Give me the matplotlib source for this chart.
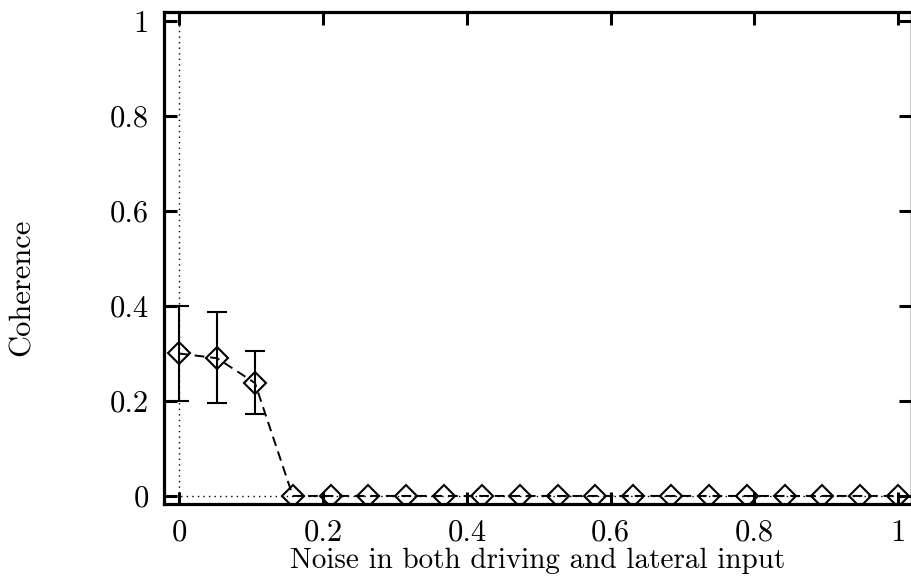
import numpy as np
import matplotlib
matplotlib.use("Agg")
import matplotlib.pyplot as plt

# noise level sweep: 20 runs from 0 to 1
noise = np.linspace(0.0, 1.0, 20)
coherence = [0.30, 0.29, 0.238] + [0.0] * 17
err_lo = [0.10, 0.094, 0.065] + [0.0] * 17
err_hi = [0.10, 0.097, 0.067] + [0.0] * 17

xticks = [0, 0.2, 0.4, 0.6, 0.8, 1]
yticks = [0, 0.2, 0.4, 0.6, 0.8, 1]
tick_labels = ["0", "0.2", "0.4", "0.6", "0.8", "1"]

plt.rcParams["font.family"] = ["cmr10", "DejaVu Serif"]
plt.rcParams["axes.formatter.use_mathtext"] = True

fig = plt.figure(figsize=(9.12, 5.77), dpi=100)
ax = fig.add_axes([0.18, 0.1265, 0.819, 0.8525])

# zero axes, drawn dotted
ax.axhline(0, color="black", lw=1.0, ls=(0, (1, 3)), zorder=1)
ax.axvline(0, color="black", lw=1.0, ls=(0, (1, 3)), zorder=1)

ax.plot(noise, coherence, color="black", lw=1.4, ls=(0, (5, 3)), zorder=2)
nz = [i for i, e in enumerate(err_hi) if e > 0]
ax.errorbar(noise[nz], np.array(coherence)[nz],
            yerr=[np.array(err_lo)[nz], np.array(err_hi)[nz]],
            fmt="none", ecolor="black", elinewidth=1.5, capsize=7.5,
            capthick=1.5, zorder=3)
ax.plot(noise, coherence, ls="none", marker="D", ms=11.5, mfc="none",
        mec="black", mew=1.5, zorder=4)

ax.set_xlim(-0.021, 1.018)
ax.set_ylim(-0.017, 1.019)
ax.set_xticks(xticks)
ax.set_xticklabels(tick_labels)
ax.set_yticks(yticks)
ax.set_yticklabels(tick_labels)

ax.tick_params(direction="in", length=9, width=2.2, top=True, right=True,
               labelsize=22, colors="black")
ax.tick_params(axis="x", pad=11)
ax.tick_params(axis="y", pad=11)
for side in ["left", "top", "bottom"]:
    ax.spines[side].set_linewidth(2.3)
ax.spines["right"].set_linewidth(1.0)

# axis titles placed by hand, tucked in under the tick labels
ax.text(0.5, -0.13, "Noise in both driving and lateral input",
        transform=ax.transAxes, ha="center", va="baseline", fontsize=21)
ax.text(-0.19, 0.44, "Coherence", transform=ax.transAxes, rotation=90,
        ha="center", va="center", fontsize=22)

fig.savefig("out.png", dpi=100)
